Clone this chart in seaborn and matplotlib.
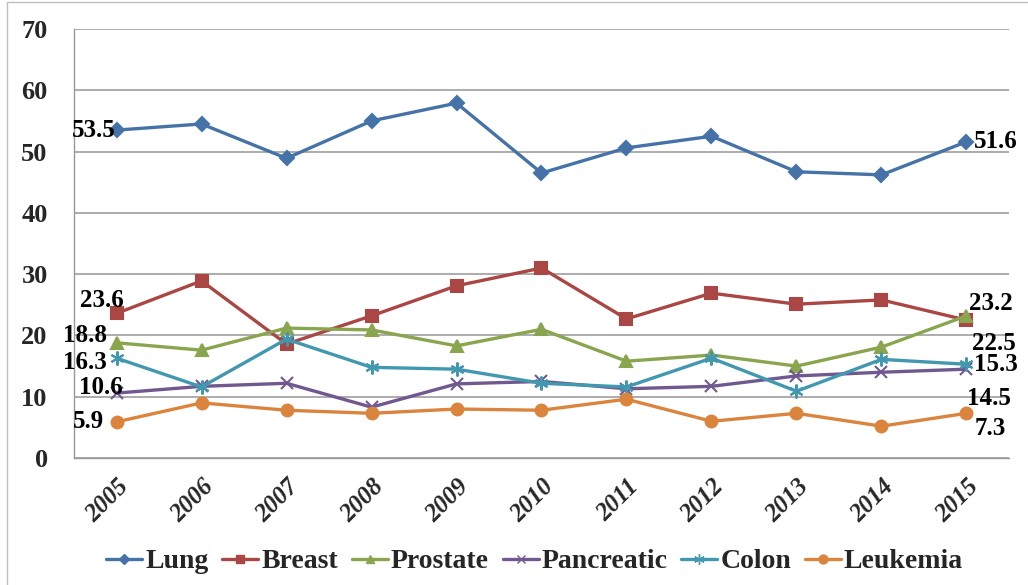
import matplotlib
matplotlib.use("Agg")
import matplotlib.pyplot as plt
from matplotlib.patches import Rectangle
from matplotlib.lines import Line2D
import seaborn as sns
import pandas as pd

# ── data ─────────────────────────────────────────────
years = ["2005", "2006", "2007", "2008", "2009", "2010",
         "2011", "2012", "2013", "2014", "2015"]
lung       = [53.5, 54.5, 48.9, 55.0, 57.9, 46.5, 50.6, 52.5, 46.7, 46.2, 51.6]
breast     = [23.6, 28.9, 18.6, 23.2, 28.1, 31.0, 22.7, 26.9, 25.1, 25.8, 22.5]
prostate   = [18.8, 17.6, 21.2, 20.9, 18.3, 21.0, 15.8, 16.8, 15.0, 18.1, 23.2]
pancreatic = [10.6, 11.7, 12.2, 8.3, 12.1, 12.5, 11.3, 11.7, 13.4, 14.0, 14.5]
colon      = [16.3, 11.6, 19.4, 14.8, 14.5, 12.2, 11.6, 16.3, 10.9, 16.1, 15.3]
leukemia   = [5.9, 9.0, 7.8, 7.3, 8.0, 7.8, 9.6, 6.0, 7.3, 5.2, 7.3]

series = {"Lung": lung, "Breast": breast, "Prostate": prostate,
          "Pancreatic": pancreatic, "Colon": colon, "Leukemia": leukemia}
colors = {"Lung": "#4572A7", "Breast": "#AA4643", "Prostate": "#89A54E",
          "Pancreatic": "#71588F", "Colon": "#4198AF", "Leukemia": "#DB843D"}
markers = {"Lung": "D", "Breast": "s", "Prostate": "^",
           "Pancreatic": "x", "Colon": (6, 2, 0), "Leukemia": "o"}
msizes = {"Lung": 7, "Breast": 8, "Prostate": 8.5,
          "Pancreatic": 8, "Colon": 10, "Leukemia": 8.5}

# data labels: (series, index, dx px, dy px, ha)
labels = [("Lung", 0, -1, 0, "right"), ("Lung", 10, 7, 0, "left"),
          ("Breast", 0, 7, 13, "right"), ("Breast", 10, 6, -23, "left"),
          ("Prostate", 0, -10, 7, "right"), ("Prostate", 10, 3, 12, "left"),
          ("Colon", 0, -10, -4, "right"), ("Colon", 10, 8, 0, "left"),
          ("Pancreatic", 0, 6, 6, "right"), ("Pancreatic", 10, 1, -29, "left"),
          ("Leukemia", 0, -13, 0, "right"), ("Leukemia", 10, 8, -15, "left")]

df = pd.DataFrame(series)
df["x"] = range(len(years))

sns.set_style("white")
plt.rcParams["font.family"] = ["Liberation Serif", "DejaVu Serif"]
plt.rcParams["font.weight"] = "bold"

fig = plt.figure(figsize=(10.28, 5.85), dpi=100)
ax = fig.add_axes([0.072, 0.217, 0.9095, 0.7335])

for name in series:
    sns.lineplot(data=df, x="x", y=name, ax=ax, color=colors[name],
                 marker=markers[name], markersize=msizes[name],
                 markeredgecolor=colors[name], markeredgewidth=1.5,
                 linewidth=2.4, legend=False)

for name, i, dx, dy, ha in labels:
    val = series[name][i]
    ax.annotate(f"{val}", (i, val), xytext=(dx * 0.72, dy * 0.72),
                textcoords="offset points", ha=ha, va="center",
                fontsize=18, fontweight="bold", color="black")

ax.set_xlim(-0.5, len(years) - 0.5)
ax.set_ylim(0, 70)
ax.set_yticks(range(0, 71, 10))
ax.set_yticklabels([str(v) for v in range(0, 71, 10)], fontsize=19, fontweight="bold")
ax.set_xticks(range(len(years)))
ax.set_xticklabels(years, rotation=45, ha="right", rotation_mode="anchor",
                   fontsize=18, fontweight="bold", style="italic")
ax.set_xticks([i - 0.5 for i in range(len(years) + 1)], minor=True)
ax.tick_params(axis="x", which="major", length=0, pad=12)
ax.tick_params(axis="x", which="minor", length=6, color="#999999", width=1)
ax.tick_params(axis="y", length=7, color="#999999", width=1, pad=12)
ax.set_xlabel("")
ax.set_ylabel("")
ax.grid(axis="y", color="#A6A6A6", linewidth=1.3)
ax.set_axisbelow(True)
for s in ["top", "right"]:
    ax.spines[s].set_visible(False)
for s in ["left", "bottom"]:
    ax.spines[s].set_color("#999999")
    ax.spines[s].set_linewidth(1)

handles = [Line2D([], [], color=colors[n], marker=markers[n], markersize=msizes[n] * 0.75,
                  markeredgecolor=colors[n], linewidth=2.4) for n in series]
fig.legend(handles, list(series), loc="center", bbox_to_anchor=(0.52, 0.04),
           ncol=6, frameon=False, prop={"size": 20, "weight": "bold"},
           handlelength=1.3, handletextpad=0.1, columnspacing=0.5)

fig.patches.append(Rectangle((0.007, -0.01), 1.0, 1.006, transform=fig.transFigure,
                             fill=False, edgecolor="#BFBFBF", linewidth=1))

fig.savefig("out.png", dpi=100)
